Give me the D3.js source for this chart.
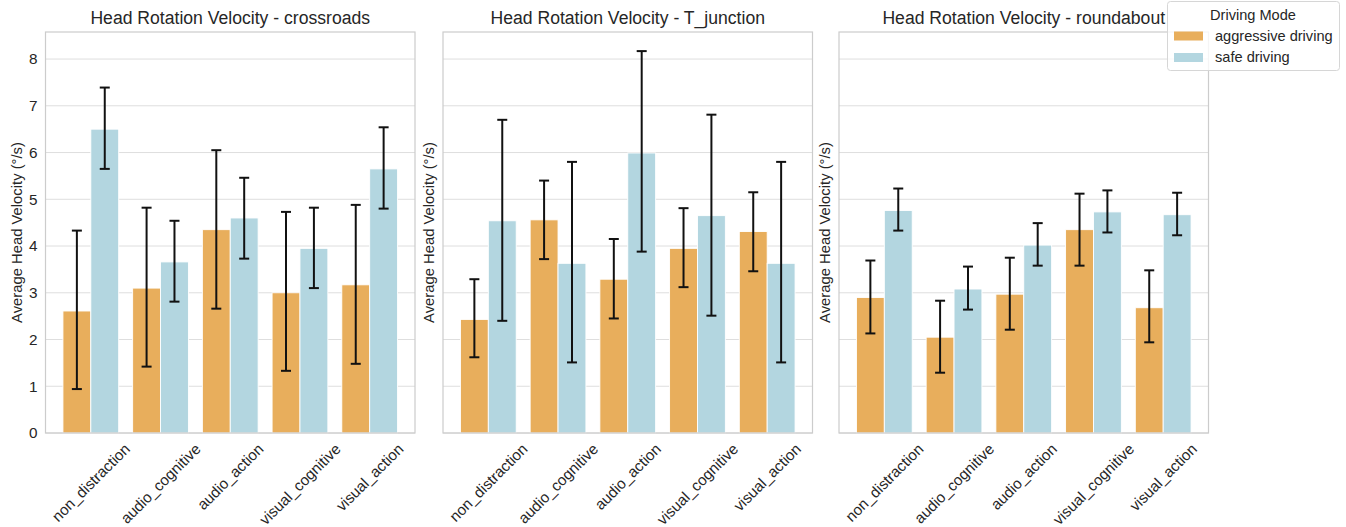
<!DOCTYPE html>
<html>
<head>
<meta charset="utf-8">
<script src="https://cdn.jsdelivr.net/npm/d3@7"></script>
<style>
  body { margin: 0; background: #fff; }
  text { font-family: Arial, "Liberation Sans", sans-serif; fill: #262626; }
</style>
</head>
<body>
<div id="chart"></div>
<script>
// categories / series
const scenarios = ["crossroads", "T_junction", "roundabout"];
const categories = ["non_distraction", "audio_cognitive", "audio_action", "visual_cognitive", "visual_action"];
const modes = ["aggressive driving", "safe driving"];
const yTicks = [0, 1, 2, 3, 4, 5, 6, 7, 8];

// one row per scenario, one value per category
const aggMean = [
  [2.61, 3.10, 4.35, 3.00, 3.17],
  [2.43, 4.56, 3.29, 3.95, 4.31],
  [2.90, 2.05, 2.97, 4.35, 2.68]
];
const aggLow = [
  [0.94, 1.42, 2.66, 1.33, 1.48],
  [1.62, 3.72, 2.45, 3.12, 3.46],
  [2.13, 1.29, 2.21, 3.58, 1.94]
];
const aggHigh = [
  [4.33, 4.82, 6.05, 4.73, 4.88],
  [3.29, 5.40, 4.15, 4.81, 5.15],
  [3.69, 2.83, 3.75, 5.12, 3.48]
];
const safeMean = [
  [6.50, 3.66, 4.60, 3.95, 5.65],
  [4.54, 3.63, 5.99, 4.65, 3.63],
  [4.76, 3.08, 4.02, 4.73, 4.67]
];
const safeLow = [
  [5.65, 2.81, 3.73, 3.10, 4.80],
  [2.40, 1.51, 3.88, 2.51, 1.51],
  [4.33, 2.64, 3.58, 4.29, 4.23]
];
const safeHigh = [
  [7.39, 4.54, 5.46, 4.82, 6.54],
  [6.70, 5.80, 8.17, 6.81, 5.80],
  [5.23, 3.56, 4.49, 5.19, 5.14]
];

const colors = ["#e8ae5c", "#b3d6e0"];

const width = 1346, height = 527;
const panelLeft = [45.5, 443, 839];
const panelW = 369.5;
const plotTop = 32, plotBottom = 433;

const svg = d3.select("#chart").append("svg")
  .attr("width", width)
  .attr("height", height)
  .attr("viewBox", [0, 0, width, height]);

// shared y scale (sharey)
const yMax = d3.max(aggHigh.concat(safeHigh).flat()) * 1.05;
const y = d3.scaleLinear().domain([0, yMax]).range([plotBottom, plotTop]);

scenarios.forEach((scen, si) => {
  const left = panelLeft[si];
  const x = d3.scaleBand().domain(categories)
    .range([left, left + panelW])
    .paddingInner(0.2).paddingOuter(0.25);
  const xs = d3.scaleBand().domain(modes).range([0, x.bandwidth()]);

  const g = svg.append("g");

  // grid
  g.append("g").selectAll("line")
    .data(yTicks)
    .join("line")
    .attr("x1", left).attr("x2", left + panelW)
    .attr("y1", d => y(d)).attr("y2", d => y(d))
    .attr("stroke", "#dedede").attr("stroke-width", 1);

  // bars
  const rows = [];
  categories.forEach((c, ci) => {
    rows.push({ c, m: modes[0], k: 0, v: aggMean[si][ci], lo: aggLow[si][ci], hi: aggHigh[si][ci] });
    rows.push({ c, m: modes[1], k: 1, v: safeMean[si][ci], lo: safeLow[si][ci], hi: safeHigh[si][ci] });
  });

  g.append("g").selectAll("rect")
    .data(rows)
    .join("rect")
    .attr("x", d => x(d.c) + xs(d.m))
    .attr("width", xs.bandwidth())
    .attr("y", d => y(d.v))
    .attr("height", d => y(0) - y(d.v))
    .attr("fill", d => colors[d.k])
    .attr("stroke", "#fff").attr("stroke-width", 0.9);

  // error bars
  const eb = g.append("g").attr("stroke", "#111").attr("stroke-width", 2);
  const cx = d => x(d.c) + xs(d.m) + xs.bandwidth() / 2;
  eb.selectAll("line.v").data(rows).join("line").attr("class", "v")
    .attr("x1", cx).attr("x2", cx)
    .attr("y1", d => y(d.lo)).attr("y2", d => y(d.hi));
  ["lo", "hi"].forEach(key => {
    eb.selectAll("line." + key).data(rows).join("line").attr("class", key)
      .attr("x1", d => cx(d) - 5).attr("x2", d => cx(d) + 5)
      .attr("y1", d => y(d[key])).attr("y2", d => y(d[key]));
  });

  // frame
  g.append("rect")
    .attr("x", left).attr("y", plotTop)
    .attr("width", panelW).attr("height", plotBottom - plotTop)
    .attr("fill", "none").attr("stroke", "#cccccc").attr("stroke-width", 1.2);

  // y tick labels only on first panel
  if (si === 0) {
    g.append("g").selectAll("text")
      .data(yTicks)
      .join("text")
      .attr("x", left - 8)
      .attr("y", d => y(d))
      .attr("dy", "0.35em")
      .attr("text-anchor", "end")
      .attr("font-size", 15.3)
      .text(d => d);
  }

  // y label
  const ylx = si === 0 ? left - 28.5 : left - 14;
  g.append("text")
    .attr("transform", `translate(${ylx},${(plotTop + plotBottom) / 2}) rotate(-90)`)
    .attr("text-anchor", "middle")
    .attr("dy", "0.35em")
    .attr("font-size", 14.8)
    .text("Average Head Velocity (°/s)");

  // title
  g.append("text")
    .attr("x", left + panelW / 2)
    .attr("y", 24)
    .attr("text-anchor", "middle")
    .attr("font-size", 17.6)
    .text("Head Rotation Velocity - " + scen);

  // x tick labels, rotated 45deg, bounding box centred on the tick
  const fs = 15.2, lh = fs * 1.15, boxTop = 440;
  g.append("g").selectAll("text")
    .data(categories)
    .join("text")
    .attr("font-size", fs)
    .attr("text-anchor", "middle")
    .attr("dy", "0.35em")
    .text(d => d)
    .each(function (d) {
      const L = this.getComputedTextLength();
      const cy = boxTop + (L + lh) * Math.SQRT1_2 / 2;
      const cxx = x(d) + x.bandwidth() / 2;
      d3.select(this).attr("transform", `translate(${cxx},${cy}) rotate(-45)`);
    });
});

// legend
const lg = svg.append("g");
lg.append("rect")
  .attr("x", 1167.5).attr("y", 1.5)
  .attr("width", 172).attr("height", 69)
  .attr("rx", 3)
  .attr("fill", "#fff").attr("fill-opacity", 0.8)
  .attr("stroke", "#d6d6d6").attr("stroke-width", 1);
lg.append("text")
  .attr("x", 1253).attr("y", 19.5)
  .attr("text-anchor", "middle")
  .attr("font-size", 14.6)
  .text("Driving Mode");
modes.forEach((m, i) => {
  lg.append("rect")
    .attr("x", 1174).attr("y", 31.5 + i * 21.5)
    .attr("width", 29).attr("height", 9)
    .attr("fill", colors[i]);
  lg.append("text")
    .attr("x", 1215).attr("y", 40.5 + i * 21.5)
    .attr("font-size", 14.6)
    .text(m);
});
</script>
</body>
</html>
